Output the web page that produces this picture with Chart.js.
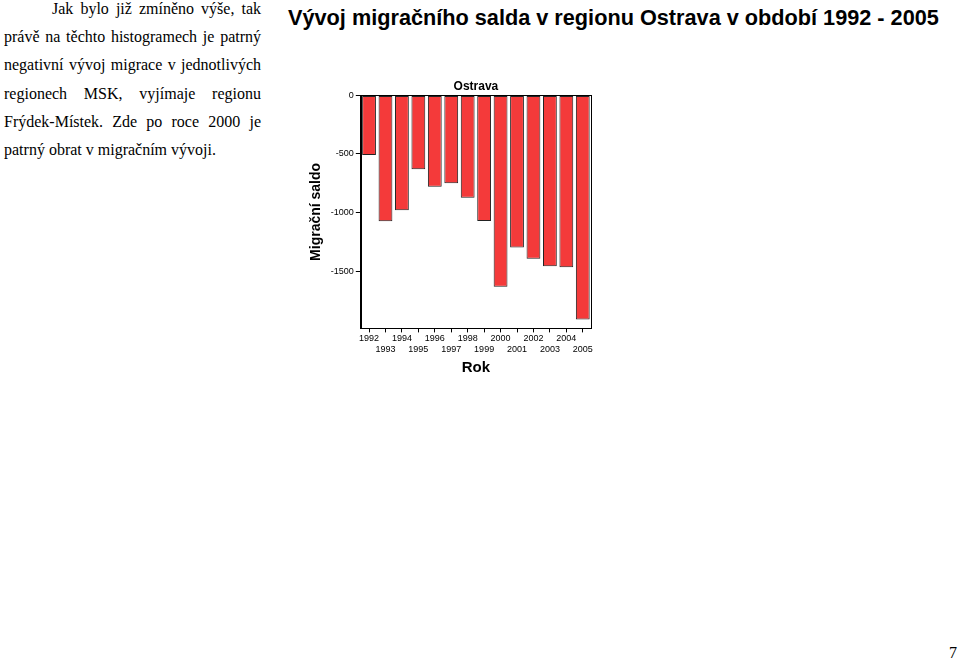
<!DOCTYPE html>
<html>
<head>
<meta charset="utf-8">
<script src="https://cdn.jsdelivr.net/npm/chart.js@4/dist/chart.umd.min.js"></script>
<style>
  body { margin: 0; background: #fff; width: 960px; height: 664px; position: relative; overflow: hidden; }
  #text {
    position: absolute; left: 4px; top: -5px; width: 257px;
    font-family: "Liberation Serif", "Times New Roman", serif; font-size: 16px;
    line-height: 28.2px; text-align: justify; text-indent: 48px; color: #000;
  }
  #title {
    position: absolute; left: 288px; top: 5px; white-space: nowrap;
    font-family: "Liberation Sans", Arial, sans-serif; font-weight: bold; font-size: 21.7px; color: #000;
  }
  #page { position: absolute; left: 949px; top: 644px; font-family: "Liberation Serif", serif; font-size: 16px; }
  #chartBox { position: absolute; left: 300px; top: 72px; }
</style>
</head>
<body>
<div id="text">Jak bylo již zmíněno výše, tak právě na těchto histogramech je patrný negativní vývoj migrace v jednotlivých regionech MSK, vyjímaje regionu Frýdek-Místek. Zde po roce 2000 je patrný obrat v migračním vývoji.</div>
<div id="title">Vývoj migračního salda v regionu Ostrava v období 1992 - 2005</div>
<div id="page">7</div>
<div id="chartBox"><canvas id="chart" width="300" height="307"></canvas></div>

<script>
// data
const roky = ["1992", "1993", "1994", "1995", "1996", "1997", "1998", "1999", "2000", "2001", "2002", "2003", "2004", "2005"];
const saldo = [-510, -1075, -980, -630, -780, -750, -875, -1072, -1635, -1300, -1395, -1460, -1467, -1915];
const yTicks = [0, -500, -1000, -1500];

// black frame around the plot area
const ramecek = {
    id: "ramecek",
    afterDatasetsDraw(chart) {
        const a = chart.chartArea;
        const ctx = chart.ctx;
        ctx.save();
        ctx.strokeStyle = "#000";
        ctx.lineWidth = 1;
        ctx.strokeRect(Math.round(a.left) + 0.5, Math.round(a.top) + 0.5, Math.round(a.right - a.left), Math.round(a.bottom - a.top));
        ctx.restore();
    }
};

Chart.defaults.font.family = '"Liberation Sans", Arial, sans-serif';
Chart.defaults.color = "#000";

new Chart(document.getElementById("chart").getContext("2d"), {
    type: "bar",
    data: {
        labels: roky,
        datasets: [{
            data: saldo,
            backgroundColor: "#f43a3a",
            borderColor: "#222",
            borderWidth: 1,
            borderSkipped: false,
            barPercentage: 0.84,
            categoryPercentage: 1.0
        }]
    },
    options: {
        responsive: false,
        animation: false,
        layout: { padding: { left: 6, right: 9, top: 0, bottom: 2 } },
        plugins: {
            legend: { display: false },
            tooltip: { enabled: false },
            title: {
                display: true,
                text: "Ostrava",
                fullSize: false,
                font: { size: 12, weight: "bold" },
                padding: { top: 7, bottom: 2 }
            }
        },
        scales: {
            x: {
                grid: { drawOnChartArea: false, offset: false, color: "#000", tickLength: 4 },
                border: { color: "#000" },
                ticks: {
                    autoSkip: false,
                    maxRotation: 0,
                    padding: 1,
                    font: { size: 9 },
                    callback: function (v, i) {
                        return i % 2 === 0 ? [roky[i], ""] : ["", roky[i]];
                    }
                },
                title: { display: true, text: "Rok", font: { size: 15, weight: "bold" }, padding: { top: 3, bottom: 0 } }
            },
            y: {
                min: -1990,
                max: 0,
                afterBuildTicks: function (scale) {
                    scale.ticks = yTicks.map(v => ({ value: v }));
                },
                grid: { drawOnChartArea: false, color: "#000", tickLength: 5 },
                border: { color: "#000" },
                ticks: {
                    font: { size: 9 },
                    padding: 2,
                    callback: function (v) { return String(v); }
                },
                title: { display: true, text: "Migrační saldo", font: { size: 14, weight: "bold" }, padding: { top: 2, bottom: 4 } }
            }
        }
    },
    plugins: [ramecek]
});
</script>
</body>
</html>
